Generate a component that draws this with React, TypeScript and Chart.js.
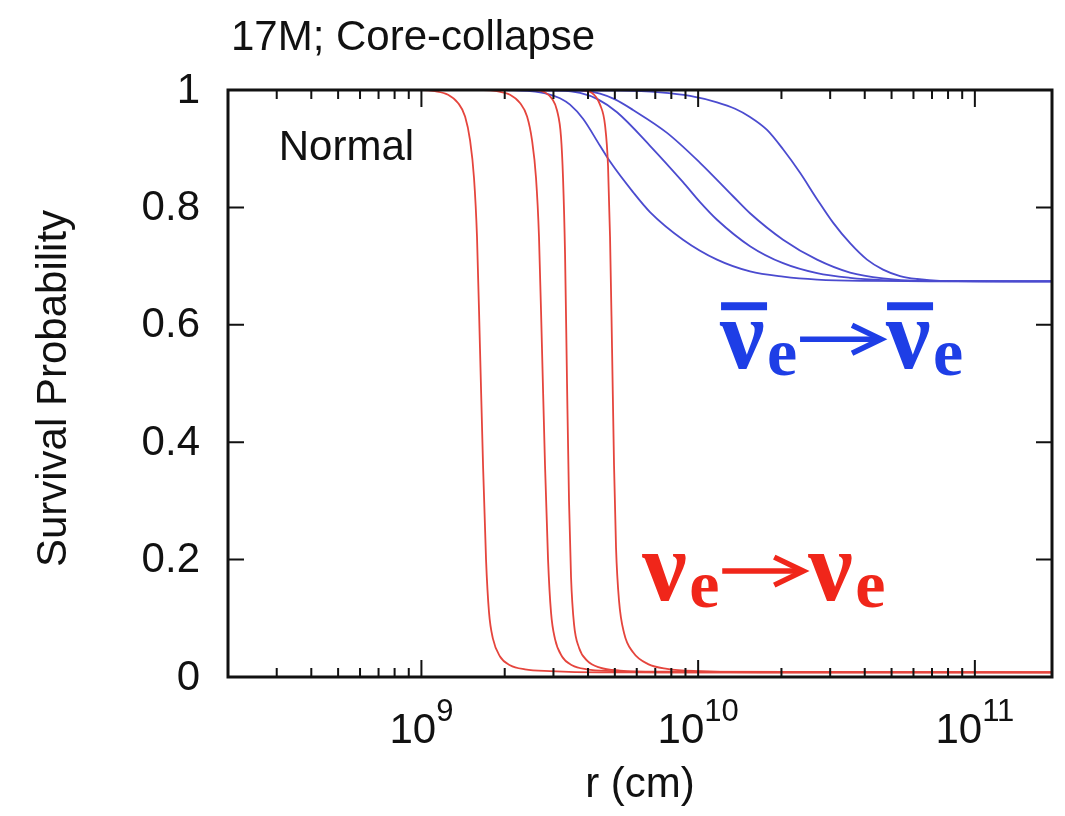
import { useEffect, useRef } from "react";
import { Chart, registerables } from "chart.js";

Chart.register(...registerables);

// ---- axis ranges & ticks ----
const X_MIN = 2e8;
const X_MAX = 1.9e11;
const Y_TICKS = [0, 0.2, 0.4, 0.6, 0.8, 1];
const Y_TICK_LABELS = ["0", "0.2", "0.4", "0.6", "0.8", "1"];
const X_MAJOR = [1e9, 1e10, 1e11];
const X_MAJOR_EXP = ["9", "10", "11"];
const X_MINOR = [
  3e8, 4e8, 5e8, 6e8, 7e8, 8e8, 9e8,
  2e9, 3e9, 4e9, 5e9, 6e9, 7e9, 8e9, 9e9,
  2e10, 3e10, 4e10, 5e10, 6e10, 7e10, 8e10, 9e10,
];

const TITLE = "17M; Core-collapse";
const X_TITLE = "r (cm)";
const Y_TITLE = "Survival Probability";
const PANEL_LABEL = "Normal";

// ---- nu_e -> nu_e (red) ----
const RED1_R = [2e8, 1.0e9, 1.12e9, 1.248e9, 1.356e9, 1.438e9, 1.498e9, 1.549e9, 1.588e9, 1.628e9, 1.67e9, 1.712e9, 1.755e9, 1.814e9, 1.923e9, 2.09e9, 2.368e9, 2.916e9, 4.42e9, 1.9e11];
const RED1_P = [1, 1, 0.998, 0.992, 0.978, 0.955, 0.915, 0.85, 0.75, 0.56, 0.36, 0.2, 0.11, 0.065, 0.035, 0.02, 0.013, 0.01, 0.008, 0.008];

const RED2_R = [2e8, 1.675e9, 1.876e9, 2.09e9, 2.271e9, 2.409e9, 2.509e9, 2.595e9, 2.66e9, 2.727e9, 2.797e9, 2.868e9, 2.94e9, 3.038e9, 3.221e9, 3.501e9, 3.966e9, 4.884e9, 7.4e9, 1.9e11];
const RED2_P = [1, 1, 0.998, 0.992, 0.978, 0.955, 0.915, 0.85, 0.75, 0.56, 0.36, 0.2, 0.11, 0.065, 0.035, 0.02, 0.013, 0.01, 0.008, 0.008];

const RED3_R = [2e8, 2.574e9, 2.797e9, 2.965e9, 3.091e9, 3.195e9, 3.249e9, 3.304e9, 3.359e9, 3.415e9, 3.473e9, 3.56e9, 3.711e9, 3.968e9, 4.42e9, 5.222e9, 7.284e9, 1.9e11];
const RED3_P = [1, 1, 0.996, 0.985, 0.965, 0.92, 0.85, 0.72, 0.5, 0.3, 0.17, 0.09, 0.05, 0.028, 0.016, 0.011, 0.009, 0.008];

const RED4_R = [2e8, 3.742e9, 4.137e9, 4.42e9, 4.608e9, 4.725e9, 4.804e9, 4.885e9, 4.967e9, 5.05e9, 5.177e9, 5.398e9, 5.818e9, 6.593e9, 7.72e9, 1.016e10, 1.674e10, 1.9e11];
const RED4_P = [1, 1, 0.995, 0.975, 0.94, 0.87, 0.75, 0.56, 0.36, 0.22, 0.13, 0.075, 0.042, 0.022, 0.014, 0.01, 0.008, 0.008];

// ---- anti-nu_e -> anti-nu_e (blue) ----
const BLUE1_R = [2.005e9, 2.47e9, 2.868e9, 3.168e9, 3.444e9, 3.837e9, 4.42e9, 4.804e9, 5.818e9, 6.7e9, 8.818e9, 1.17e10, 1.54e10, 2.027e10, 2.69e10, 3.847e10, 1.9e11];
const BLUE1_P = [1, 0.998, 0.993, 0.986, 0.975, 0.951, 0.905, 0.878, 0.826, 0.792, 0.745, 0.711, 0.691, 0.682, 0.677, 0.675, 0.674];

const BLUE2_R = [2.005e9, 3.168e9, 3.742e9, 4.347e9, 5.092e9, 6.7e9, 8.818e9, 1.016e10, 1.17e10, 1.54e10, 2.027e10, 2.69e10, 3.54e10, 4.658e10, 6.887e10, 1.9e11];
const BLUE2_P = [1, 0.999, 0.995, 0.984, 0.962, 0.905, 0.843, 0.809, 0.779, 0.734, 0.705, 0.688, 0.68, 0.676, 0.674, 0.674];

const BLUE3_R = [2.005e9, 3.742e9, 4.42e9, 5.009e9, 5.818e9, 7.72e9, 1.016e10, 1.337e10, 1.54e10, 2.027e10, 2.69e10, 3.54e10, 4.658e10, 6.339e10, 1.9e11];
const BLUE3_P = [1, 0.999, 0.994, 0.984, 0.966, 0.927, 0.876, 0.819, 0.79, 0.745, 0.711, 0.689, 0.679, 0.675, 0.674];

const BLUE4_R = [2.005e9, 5.222e9, 7.284e9, 9.348e9, 1.17e10, 1.36e10, 1.54e10, 1.774e10, 2.027e10, 2.335e10, 2.69e10, 3.073e10, 3.54e10, 4.077e10, 4.658e10, 5.367e10, 6.181e10, 7.484e10, 1.9e11];
const BLUE4_P = [1, 0.999, 0.996, 0.99, 0.979, 0.968, 0.954, 0.932, 0.899, 0.859, 0.814, 0.774, 0.739, 0.711, 0.694, 0.683, 0.678, 0.675, 0.674];

// annotation anchors (data coordinates: left edge of first nu, its baseline)
const NORMAL_AT = { r: 3.05e8, p: 0.881 };
const BLUE_LABEL_AT = { r: 1.2e10, p: 0.526 };
const RED_LABEL_AT = { r: 6.28e9, p: 0.131 };

const RED_LINE = "#e5453d";
const BLUE_LINE = "#4b4bcf";
const RED_TEXT = "#f0261a";
const BLUE_TEXT = "#1e3ee6";

const pts = (r: number[], p: number[]) => r.map((x, i) => ({ x, y: p[i] }));

function drawNuLabel(ctx: CanvasRenderingContext2D, x: number, base: number, color: string, bar: boolean) {
  ctx.save();
  ctx.fillStyle = color;
  ctx.strokeStyle = color;
  ctx.textAlign = "left";
  ctx.textBaseline = "alphabetic";
  const nuFont = 'bold 100px "Liberation Serif", "DejaVu Serif", serif';
  const eFont = 'bold 68px "Liberation Serif", "DejaVu Serif", serif';
  const drawNu = (nx: number) => {
    ctx.font = nuFont;
    ctx.fillText("ν", nx, base);
    if (bar) ctx.fillRect(nx + 1, base - 66, 46, 8);
    ctx.font = eFont;
    ctx.fillText("e", nx + 47, base + 7);
  };
  drawNu(x);
  // arrow
  const ay = base - 29;
  ctx.lineWidth = 5.5;
  ctx.lineCap = "butt";
  ctx.lineJoin = "miter";
  ctx.beginPath();
  ctx.moveTo(x + 80, ay);
  ctx.lineTo(x + 158, ay);
  ctx.stroke();
  ctx.beginPath();
  ctx.moveTo(x + 132, ay - 14);
  ctx.lineTo(x + 161, ay);
  ctx.lineTo(x + 132, ay + 14);
  ctx.stroke();
  drawNu(x + 166);
  ctx.restore();
}

const overlay = {
  id: "overlay",
  afterDatasetsDraw(chart: any) {
    const ctx: CanvasRenderingContext2D = chart.ctx;
    const { left, right, top, bottom } = chart.chartArea;
    const xs = chart.scales.x;
    const ys = chart.scales.y;
    ctx.save();

    // tick marks (inward, mirrored)
    ctx.strokeStyle = "#111";
    ctx.lineWidth = 2;
    ctx.beginPath();
    Y_TICKS.forEach((v) => {
      const py = ys.getPixelForValue(v);
      ctx.moveTo(left, py);
      ctx.lineTo(left + 16, py);
      ctx.moveTo(right, py);
      ctx.lineTo(right - 16, py);
    });
    X_MAJOR.forEach((v) => {
      const px = xs.getPixelForValue(v);
      ctx.moveTo(px, bottom);
      ctx.lineTo(px, bottom - 17);
      ctx.moveTo(px, top);
      ctx.lineTo(px, top + 17);
    });
    X_MINOR.forEach((v) => {
      const px = xs.getPixelForValue(v);
      ctx.moveTo(px, bottom);
      ctx.lineTo(px, bottom - 9);
      ctx.moveTo(px, top);
      ctx.lineTo(px, top + 9);
    });
    ctx.stroke();

    // frame
    ctx.lineWidth = 3;
    ctx.strokeRect(left, top, right - left, bottom - top);

    // y tick labels
    ctx.fillStyle = "#111";
    ctx.font = '42px "Liberation Sans", Arial, sans-serif';
    ctx.textAlign = "right";
    ctx.textBaseline = "middle";
    Y_TICKS.forEach((v, i) => {
      ctx.fillText(Y_TICK_LABELS[i], 200, ys.getPixelForValue(v) + 1);
    });

    // x tick labels 10^n
    ctx.textBaseline = "alphabetic";
    ctx.textAlign = "left";
    X_MAJOR.forEach((v, i) => {
      const px = xs.getPixelForValue(v);
      ctx.font = '42px "Liberation Sans", Arial, sans-serif';
      const w1 = ctx.measureText("10").width;
      ctx.font = '31px "Liberation Sans", Arial, sans-serif';
      const w2 = ctx.measureText(X_MAJOR_EXP[i]).width;
      const start = px - (w1 + w2) / 2;
      ctx.font = '42px "Liberation Sans", Arial, sans-serif';
      ctx.fillText("10", start, 743);
      ctx.font = '31px "Liberation Sans", Arial, sans-serif';
      ctx.fillText(X_MAJOR_EXP[i], start + w1, 721);
    });

    // axis titles
    ctx.font = '42px "Liberation Sans", Arial, sans-serif';
    ctx.textAlign = "center";
    ctx.fillText(X_TITLE, (left + right) / 2, 797);
    ctx.save();
    ctx.translate(66, (top + bottom) / 2 + 5);
    ctx.rotate(-Math.PI / 2);
    ctx.fillText(Y_TITLE, 0, 0);
    ctx.restore();

    // title
    ctx.font = '42px "Liberation Sans", Arial, sans-serif';
    ctx.textAlign = "left";
    ctx.fillText(TITLE, 231, 50);

    // panel label
    ctx.font = '42px "Liberation Sans", Arial, sans-serif';
    ctx.fillText(PANEL_LABEL, xs.getPixelForValue(NORMAL_AT.r), ys.getPixelForValue(NORMAL_AT.p));

    ctx.restore();

    drawNuLabel(ctx, xs.getPixelForValue(BLUE_LABEL_AT.r), ys.getPixelForValue(BLUE_LABEL_AT.p), BLUE_TEXT, true);
    drawNuLabel(ctx, xs.getPixelForValue(RED_LABEL_AT.r), ys.getPixelForValue(RED_LABEL_AT.p), RED_TEXT, false);
  },
};

export default function App() {
  const ref = useRef<HTMLCanvasElement>(null);
  useEffect(() => {
    const canvas = ref.current;
    if (!canvas) return;
    const ds = (r: number[], p: number[], color: string) => ({
      data: pts(r, p),
      showLine: true,
      borderColor: color,
      backgroundColor: color,
      borderWidth: 1.8,
      pointRadius: 0,
      fill: false,
      cubicInterpolationMode: "monotone" as const,
    });
    const chart = new Chart(canvas, {
      type: "scatter",
      data: {
        datasets: [
          ds(RED1_R, RED1_P, RED_LINE),
          ds(RED2_R, RED2_P, RED_LINE),
          ds(RED3_R, RED3_P, RED_LINE),
          ds(RED4_R, RED4_P, RED_LINE),
          ds(BLUE1_R, BLUE1_P, BLUE_LINE),
          ds(BLUE2_R, BLUE2_P, BLUE_LINE),
          ds(BLUE3_R, BLUE3_P, BLUE_LINE),
          ds(BLUE4_R, BLUE4_P, BLUE_LINE),
        ],
      },
      options: {
        animation: false,
        responsive: false,
        devicePixelRatio: 1,
        layout: { padding: { left: 228, right: 13, top: 90, bottom: 139 } },
        plugins: {
          legend: { display: false },
          tooltip: { enabled: false },
          title: { display: false },
        },
        scales: {
          x: { type: "logarithmic", min: X_MIN, max: X_MAX, display: false },
          y: { type: "linear", min: 0, max: 1, display: false },
        },
      },
      plugins: [overlay],
    });
    return () => chart.destroy();
  }, []);
  return (
    <div style={{ position: "absolute", left: 0, top: 0, width: 1065, height: 816, background: "#fff" }}>
      <canvas ref={ref} width={1065} height={816} style={{ display: "block", width: 1065, height: 816 }} />
    </div>
  );
}
